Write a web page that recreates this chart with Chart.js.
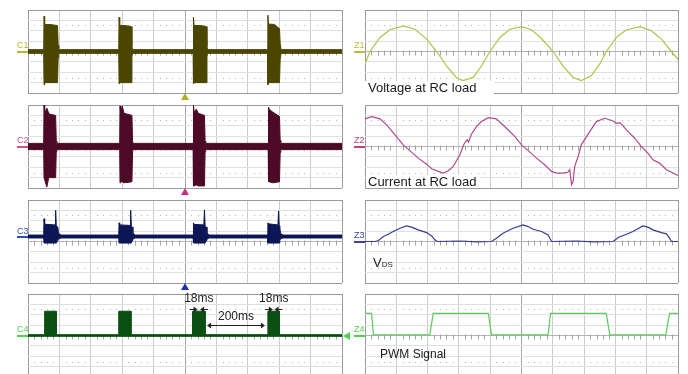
<!DOCTYPE html>
<html>
<head>
<meta charset="utf-8">
<script src="https://cdn.jsdelivr.net/npm/chart.js@4.4.1/dist/chart.umd.min.js"></script>
<style>
body { margin:0; background:#fff; width:688px; height:374px; overflow:hidden; position:relative; font-family:"Liberation Sans", Arial, sans-serif; }
canvas { position:absolute; }
.ch { position:absolute; font-size:9px; line-height:9px; }
.mk { position:absolute; height:2px; }
.tri { position:absolute; width:0; height:0; border-left:4px solid transparent; border-right:4px solid transparent; border-bottom:7px solid; }
.lbl { position:absolute; color:#1a1a1a; font-size:13px; line-height:13px; white-space:nowrap; }
</style>
</head>
<body>
<canvas id="c1" width="316" height="85" style="left:27px;top:9px"></canvas>
<canvas id="c2" width="316" height="85" style="left:27px;top:104px"></canvas>
<canvas id="c3" width="316" height="85" style="left:27px;top:199px"></canvas>
<canvas id="c4" width="316" height="85" style="left:27px;top:293px"></canvas>
<canvas id="z1" width="315" height="85" style="left:364px;top:9px"></canvas>
<canvas id="z2" width="315" height="85" style="left:364px;top:104px"></canvas>
<canvas id="z3" width="315" height="85" style="left:364px;top:199px"></canvas>
<canvas id="z4" width="315" height="85" style="left:364px;top:293px"></canvas>

<div class="ch" style="left:17px;top:41px;color:#b8b830">C1</div><div class="mk" style="left:17px;top:51px;width:11px;background:#b8b830"></div>
<div class="ch" style="left:17px;top:136px;color:#d0508a">C2</div><div class="mk" style="left:17px;top:146px;width:11px;background:#d0508a"></div>
<div class="ch" style="left:17px;top:227px;color:#3050b0">C3</div><div class="mk" style="left:17px;top:236px;width:11px;background:#3050b0"></div>
<div class="ch" style="left:17px;top:325px;color:#50d050">C4</div><div class="mk" style="left:17px;top:335px;width:11px;background:#50d050"></div>
<div class="ch" style="left:354px;top:41px;color:#b8c040">Z1</div><div class="mk" style="left:354px;top:51px;width:11px;background:#b8c040"></div>
<div class="ch" style="left:354px;top:136px;color:#c04080">Z2</div><div class="mk" style="left:354px;top:146px;width:11px;background:#c04080"></div>
<div class="ch" style="left:354px;top:231px;color:#4040a0">Z3</div><div class="mk" style="left:354px;top:241px;width:11px;background:#4040a0"></div>
<div class="ch" style="left:354px;top:325px;color:#50d050">Z4</div><div class="mk" style="left:354px;top:335px;width:11px;background:#50d050"></div>
<div style="position:absolute;left:343px;top:332px;width:0;height:0;border-top:4px solid transparent;border-bottom:4px solid transparent;border-right:7px solid #50d050"></div>
<div class="tri" style="left:181px;top:93px;border-bottom-color:#b0b020"></div>
<div class="tri" style="left:181px;top:188px;border-bottom-color:#d0307a"></div>
<div class="tri" style="left:181px;top:283px;border-bottom-color:#2030b0"></div>

<div class="lbl" style="left:365px;top:81px;width:126px;padding-left:3px;background:#fff">Voltage at RC load</div>
<div class="lbl" style="left:366px;top:175px;width:112px;padding-left:2px;background:#fff">Current at RC load</div>
<div class="lbl" style="left:373px;top:256px">V<span style="font-size:8px">DS</span></div>
<div class="lbl" style="left:380px;top:348px;font-size:12px">PWM Signal</div>

<script>
// x in screen divisions (0..10), y in vertical divisions (-4..4)

// C1 - burst envelope
const c1X  = [0, 0.50, 0.51, 0.53, 0.70, 0.94, 0.96, 0.98, 1.00, 2.89, 2.90, 2.92, 3.10, 3.29, 3.31, 3.33, 5.26, 5.27, 5.29, 5.50, 5.68, 5.70, 5.72, 7.63, 7.64, 7.66, 7.85, 8.01, 8.03, 8.06, 10];
const c1Hi = [0.18, 0.18, 3.4, 2.6, 2.6, 2.5, 0.6, 0.3, 0.18, 0.18, 3.3, 2.5, 2.5, 2.4, 0.5, 0.18, 0.18, 3.3, 2.5, 2.5, 2.4, 0.5, 0.18, 0.18, 3.5, 2.65, 2.6, 2.2, 0.8, 0.18, 0.18];
const c1Lo = [-0.18, -0.18, -3.2, -3.0, -3.0, -3.0, -0.6, -0.3, -0.18, -0.18, -3.1, -3.0, -3.0, -3.0, -0.5, -0.18, -0.18, -3.1, -3.0, -3.0, -3.0, -0.5, -0.18, -0.18, -3.2, -3.0, -3.0, -3.0, -0.8, -0.18, -0.18];

// C2
const c2X  = [0, 0.50, 0.51, 0.53, 0.60, 0.66, 0.70, 0.88, 0.90, 0.92, 2.92, 2.93, 2.95, 3.00, 3.06, 3.31, 3.33, 3.35, 5.26, 5.27, 5.29, 5.36, 5.42, 5.62, 5.64, 5.66, 7.65, 7.66, 7.68, 7.80, 8.01, 8.03, 8.05, 10];
const c2Hi = [0.3, 0.3, 4.0, 3.2, 3.7, 3.2, 3.1, 3.0, 0.5, 0.3, 0.3, 3.9, 3.3, 3.9, 3.2, 3.0, 0.5, 0.3, 0.3, 4.0, 3.3, 3.6, 3.2, 3.0, 0.5, 0.3, 0.3, 3.8, 3.6, 3.3, 2.9, 0.6, 0.3, 0.3];
const c2Lo = [-0.3, -0.3, -3.0, -3.0, -3.9, -3.0, -3.0, -3.0, -0.5, -0.3, -0.3, -3.5, -3.4, -3.4, -3.5, -3.4, -0.5, -0.3, -0.3, -3.8, -3.8, -3.7, -3.8, -3.8, -0.5, -0.3, -0.3, -3.4, -3.4, -3.5, -3.4, -0.6, -0.3, -0.3];

// C3
const c3X  = [0,
  0.50, 0.51, 0.53, 0.86, 0.88, 0.90, 0.95, 0.97, 1.05,
  2.89, 2.90, 2.92, 3.25, 3.27, 3.29, 3.32, 3.34, 3.42,
  5.26, 5.27, 5.29, 5.60, 5.62, 5.64, 5.68, 5.70, 5.78,
  7.63, 7.64, 7.66, 7.96, 7.98, 8.00, 8.02, 8.04, 8.12, 10];
const c3Hi = [0.62,
  0.62, 2.2, 1.66, 1.6, 3.0, 1.5, 1.4, 0.8, 0.62,
  0.62, 1.8, 1.6, 1.55, 3.0, 1.5, 1.4, 0.8, 0.62,
  0.62, 1.8, 1.65, 1.6, 3.05, 1.5, 1.4, 0.8, 0.62,
  0.62, 1.8, 1.7, 1.6, 2.95, 1.5, 1.4, 0.8, 0.62, 0.62];
const c3Lo = [0.34,
  0.34, -0.15, -0.15, -0.15, -0.15, -0.15, 0.1, 0.25, 0.34,
  0.34, -0.15, -0.15, -0.15, -0.15, -0.15, 0.1, 0.25, 0.34,
  0.34, -0.15, -0.15, -0.15, -0.15, -0.15, 0.1, 0.25, 0.34,
  0.34, -0.15, -0.15, -0.15, -0.15, -0.15, 0.1, 0.25, 0.34, 0.34];

// C4 - gate pulses
const c4X  = [0, 0.53, 0.53, 0.90, 0.90, 2.89, 2.89, 3.28, 3.28, 5.24, 5.24, 5.64, 5.64, 7.64, 7.64, 8.01, 8.01, 10];
const c4Hi = [0.08, 0.08, 2.34, 2.34, 0.08, 0.08, 2.34, 2.34, 0.08, 0.08, 2.34, 2.34, 0.08, 0.08, 2.34, 2.34, 0.08, 0.08];
const c4Lo = [-0.08, -0.08, -0.08, -0.08, -0.08, -0.08, -0.08, -0.08, -0.08, -0.08, -0.08, -0.08, -0.08, -0.08, -0.08, -0.08, -0.08, -0.08];
const markedPulses = [[5.24, 5.64], [7.64, 8.01]];
const widthLabel = "18ms";
const gapLabel = "200ms";

// Z1 voltage at RC load
const z1X = [0, 0.16, 0.48, 0.8, 1.22, 1.6, 1.97, 2.29, 2.61, 2.93, 3.14, 3.46, 3.72, 3.99, 4.31, 4.63, 5.0, 5.32, 5.64, 6.01, 6.33, 6.65, 6.91, 7.23, 7.5, 7.71, 8.03, 8.35, 8.78, 9.15, 9.47, 9.79, 10];
const z1Y = [-1.2, 0, 1.35, 2.1, 2.46, 2.15, 1.2, 0, -1.4, -2.55, -2.8, -2.5, -1.4, 0, 1.35, 2.15, 2.4, 2.1, 1.25, 0, -1.4, -2.5, -2.8, -2.35, -1.2, 0, 1.35, 2.1, 2.4, 2.0, 1.2, 0, -0.75];

// Z2 current at RC load
const z2X = [0, 0.21, 0.48, 0.69, 0.96, 1.22, 1.49, 1.70, 1.97, 2.13, 2.34, 2.50, 2.66, 2.82, 3.03, 3.16, 3.22, 3.27, 3.31, 3.40, 3.56, 3.72, 3.94, 4.20, 4.52, 4.79, 5.00, 5.27, 5.48, 5.74, 5.96, 6.12, 6.33, 6.49, 6.54, 6.60, 6.65, 6.70, 6.81, 6.91, 7.18, 7.39, 7.66, 7.93, 8.03, 8.14, 8.24, 8.35, 8.62, 8.83, 9.04, 9.20, 9.41, 9.63, 9.84, 10];
const z2Y = [2.66, 2.88, 2.66, 2.08, 1.12, 0.16, -0.54, -1.12, -1.70, -2.14, -2.40, -2.56, -2.34, -1.92, -0.80, 0.22, 0.48, 0.64, 0.42, 1.18, 1.92, 2.40, 2.78, 2.66, 1.76, 0.96, 0.16, -0.54, -1.12, -1.76, -2.40, -2.56, -2.56, -2.46, -2.24, -3.68, -3.36, -1.92, -0.96, 0.16, 1.44, 2.40, 2.72, 2.46, 2.24, 2.30, 2.02, 1.60, 0.80, 0, -0.64, -1.28, -1.60, -2.24, -2.56, -2.78];

// Z3 V_DS
const z3X = [0, 0.32, 0.43, 0.59, 0.80, 0.90, 1.12, 1.33, 1.49, 1.70, 1.97, 2.13, 2.23, 2.31, 3.03, 3.56, 4.04, 4.20, 4.41, 4.73, 5.05, 5.21, 5.37, 5.64, 5.85, 5.96, 6.76, 7.29, 7.93, 8.09, 8.35, 8.56, 8.88, 9.04, 9.20, 9.47, 9.63, 9.73, 9.79, 10];
const z3Y = [0, 0, 0.1, 0.48, 0.8, 0.96, 1.28, 1.5, 1.38, 1.12, 0.86, 0.54, 0.16, 0, 0.05, -0.03, 0, 0.32, 0.8, 1.28, 1.6, 1.44, 1.18, 0.96, 0.64, 0, 0.05, -0.03, 0, 0.38, 0.7, 0.96, 1.5, 1.38, 1.12, 0.86, 0.74, 0.32, 0, 0];

// Z4 PWM signal
const z4X = [0, 0.21, 0.27, 2.07, 2.18, 3.94, 4.04, 5.85, 5.93, 7.71, 7.82, 9.61, 9.73, 10];
const z4Y = [2.14, 2.14, 0.06, 0.06, 2.14, 2.14, 0.06, 0.06, 2.14, 2.14, 0.06, 0.06, 2.14, 2.14];

function pts(xs, ys) {
  return xs.map((x, i) => ({ x: x, y: ys[i] }));
}

// centre axis ticks and dotted rows of the scope graticule
const graticule = {
  id: 'graticule',
  beforeDatasetsDraw(chart) {
    const ctx = chart.ctx;
    const x = chart.scales.x, y = chart.scales.y;
    const y0 = Math.round(y.getPixelForValue(0)) + 0.5;
    ctx.save();
    ctx.strokeStyle = '#a4a4a4';
    ctx.lineWidth = 1;
    ctx.beginPath();
    for (let i = 1; i < 50; i++) {
      if (i % 5 === 0) continue;
      const px = Math.round(x.getPixelForValue(i / 5)) + 0.5;
      ctx.moveTo(px, y0 - 2); ctx.lineTo(px, y0 + 3);
    }
    ctx.stroke();
    ctx.fillStyle = '#b4b4b4';
    [-2.6, 2.6].forEach(r => {
      const py = Math.round(y.getPixelForValue(r));
      for (let i = 1; i < 50; i++) {
        if (i % 5 === 0) continue;
        ctx.fillRect(Math.round(x.getPixelForValue(i / 5)), py, 1, 1);
      }
    });
    ctx.restore();
  }
};

// 18ms / 200ms markings on the gate signal
const timing = {
  id: 'timing',
  afterDatasetsDraw(chart) {
    const ctx = chart.ctx;
    const x = chart.scales.x, y = chart.scales.y;
    ctx.save();
    ctx.fillStyle = '#222';
    ctx.strokeStyle = '#222';
    ctx.lineWidth = 1;
    ctx.font = '12px "Liberation Sans", Arial, sans-serif';
    ctx.textAlign = 'center';
    ctx.textBaseline = 'middle';
    function head(tx, ty, dir) {
      ctx.beginPath();
      ctx.moveTo(tx, ty);
      ctx.lineTo(tx - dir * 4, ty - 3);
      ctx.lineTo(tx - dir * 4, ty + 3);
      ctx.closePath();
      ctx.fill();
    }
    const ya = Math.round(y.getPixelForValue(2.56)) + 0.5;
    markedPulses.forEach(p => {
      const l = x.getPixelForValue(p[0]), r = x.getPixelForValue(p[1]);
      ctx.fillText(widthLabel, (l + r) / 2, y.getPixelForValue(3.55));
      ctx.beginPath();
      ctx.moveTo(l - 3, ya); ctx.lineTo(l + 2, ya);
      ctx.moveTo(r + 3, ya); ctx.lineTo(r - 2, ya);
      ctx.stroke();
      head(l + 5, ya, 1);
      head(r - 5, ya, -1);
    });
    const a = x.getPixelForValue(markedPulses[0][1]) + 2;
    const b = x.getPixelForValue(markedPulses[1][0]) - 3;
    const yd = Math.round(y.getPixelForValue(1.0)) + 0.5;
    ctx.fillText(gapLabel, (a + b) / 2, y.getPixelForValue(1.8));
    ctx.beginPath();
    ctx.moveTo(a + 3, yd); ctx.lineTo(b - 3, yd);
    ctx.stroke();
    head(a, yd, -1);
    head(b, yd, 1);
    ctx.restore();
  }
};

function scopeOptions() {
  return {
    responsive: false,
    animation: false,
    events: [],
    layout: { padding: 1 },
    plugins: { legend: { display: false }, tooltip: { enabled: false } },
    elements: { point: { radius: 0 }, line: { tension: 0 } },
    scales: {
      x: {
        type: 'linear', min: 0, max: 10,
        ticks: { display: false, stepSize: 1 },
        border: { display: false },
        grid: {
          drawTicks: false,
          color: c => (c.tick.value === 0 || c.tick.value === 10) ? '#9a9a9a' : (c.tick.value === 5 ? '#a4a4a4' : '#cdcdcd')
        }
      },
      y: {
        type: 'linear', min: -4, max: 4,
        ticks: { display: false, stepSize: 1 },
        border: { display: false },
        grid: {
          drawTicks: false,
          color: c => (Math.abs(c.tick.value) === 4) ? '#9a9a9a' : (c.tick.value === 0 ? '#b4b4b4' : '#e0e0e0')
        }
      }
    }
  };
}

function burstPanel(id, xs, hi, lo, color, extra) {
  new Chart(document.getElementById(id), {
    type: 'line',
    data: {
      datasets: [
        { data: pts(xs, hi), borderColor: color, borderWidth: 1, fill: false },
        { data: pts(xs, lo), borderColor: color, borderWidth: 1, backgroundColor: color, fill: '-1' }
      ]
    },
    options: scopeOptions(),
    plugins: extra ? [graticule, extra] : [graticule]
  });
}

function tracePanel(id, xs, ys, color) {
  new Chart(document.getElementById(id), {
    type: 'line',
    data: { datasets: [{ data: pts(xs, ys), borderColor: color, borderWidth: 1.2, fill: false }] },
    options: scopeOptions(),
    plugins: [graticule]
  });
}

burstPanel('c1', c1X, c1Hi, c1Lo, '#4a4600');
burstPanel('c2', c2X, c2Hi, c2Lo, '#4d0a26');
burstPanel('c3', c3X, c3Hi, c3Lo, '#0c1655');
burstPanel('c4', c4X, c4Hi, c4Lo, '#0b4f12', timing);

tracePanel('z1', z1X, z1Y, '#b4c048');
tracePanel('z2', z2X, z2Y, '#b04a8a');
tracePanel('z3', z3X, z3Y, '#3a3a96');
tracePanel('z4', z4X, z4Y, '#5ccc5c');
</script>
</body>
</html>
